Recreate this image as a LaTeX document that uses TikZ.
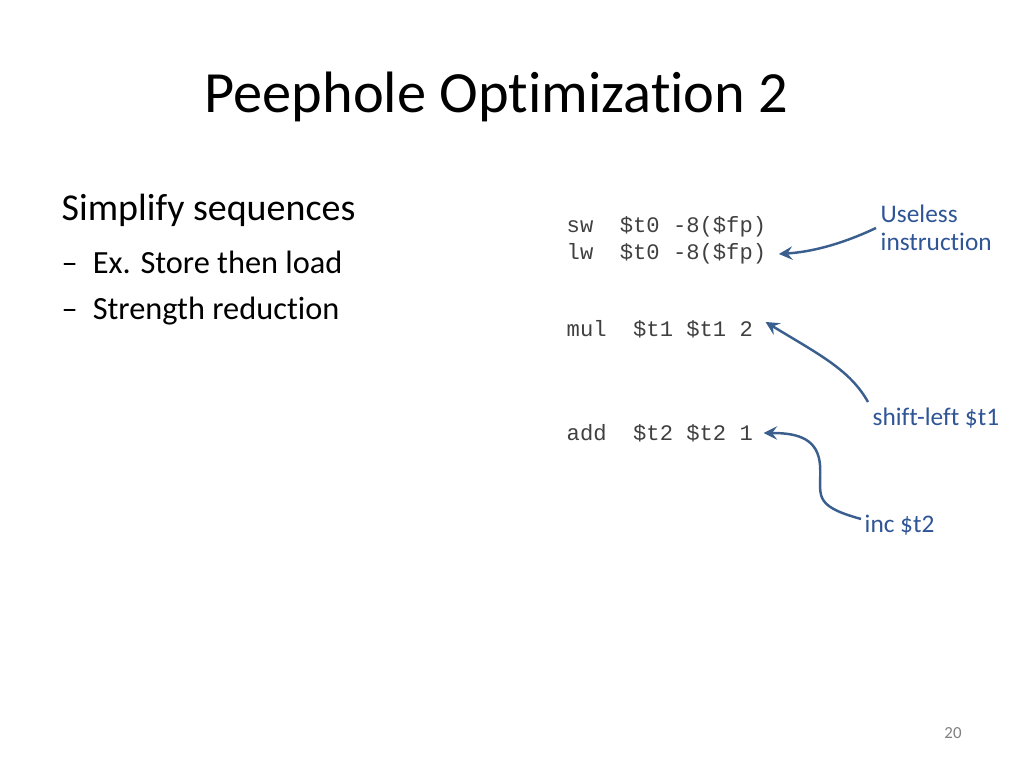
\documentclass[tikz,border=0pt]{standalone}
\usepackage{fontspec}
\setmainfont[Ligatures=NoCommon]{Carlito}
\setmonofont{Liberation Mono}
\definecolor{labelblue}{HTML}{2F5597}
\definecolor{arrowblue}{HTML}{3A5F8F}
\definecolor{codegray}{HTML}{404040}
\begin{document}
\begin{tikzpicture}[x=0.01cm,y=-0.01cm,
	code/.style={anchor=west,inner sep=0pt,text=codegray,font=\fontsize{6.3}{8}\ttfamily},
	note/.style={anchor=west,inner sep=0pt,text=labelblue,font=\fontsize{7.2}{9}\selectfont,align=left},
	body/.style={anchor=west,inner sep=0pt},
	pointer/.style={draw=arrowblue,line width=0.7pt,-stealth}]

	\useasboundingbox (0,0) rectangle (1024,768);

	% Title and bullets
	\node[body,font=\fontsize{16.6}{20}\selectfont] (title) at (204,97) {Peephole Optimization 2};
	\node[body,font=\fontsize{10.8}{13}\selectfont] (simplify) at (61,210) {Simplify sequences};
	\node[body,font=\fontsize{9.2}{11}\selectfont] (store) at (61,262) {–\hspace{0.15cm}Ex. Store then load};
	\node[body,font=\fontsize{9.2}{11}\selectfont] (strength) at (61,311) {–\hspace{0.15cm}Strength reduction};

	% Code
	\node[code] (sw) at (566,227) {sw\ \ \$t0 -8(\$fp)};
	\node[code] (lw) at (566,254) {lw\ \ \$t0 -8(\$fp)};
	\node[code] (mul) at (566,329) {mul\ \ \$t1 \$t1 2};
	\node[code] (add) at (566,433) {add\ \ \$t2 \$t2 1};

	% Labels
	\node[note] (useless) at (880,228) {Useless\\[-1pt]instruction};
	\node[note] (shift) at (872,418) {shift-left \$t1};
	\node[note] (inc) at (864,525) {inc \$t2};
	\node[font=\fontsize{4.8}{6}\selectfont,text=gray] (page) at (953,733) {20};

	% Arrows
	\coordinate (uselessend) at (876,228);
	\coordinate (shiftend) at (868,402);
	\coordinate (incend) at (861,519);
	\draw[pointer] (uselessend) .. controls (840,245) and (810,252) .. ([xshift=0.12cm]lw.east);
	\draw[pointer] (shiftend) .. controls (850,370) and (820,355) .. ([xshift=0.12cm,yshift=0.07cm]mul.east);
	\draw[pointer] (incend) .. controls (810,505) and (822,495) .. (820,465)
		.. controls (818,440) and (800,433) .. ([xshift=0.1cm]add.east);
\end{tikzpicture}
\end{document}
